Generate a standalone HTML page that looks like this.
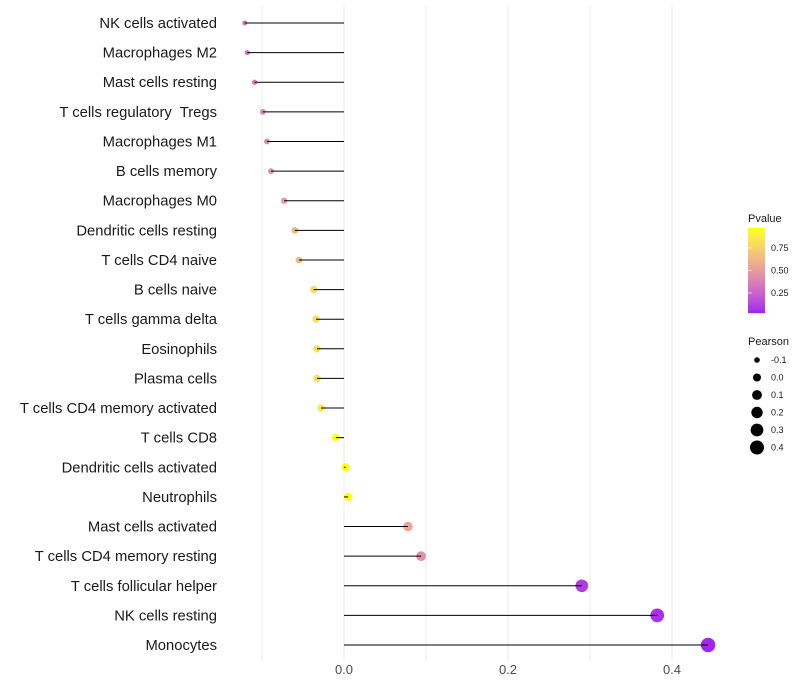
<!DOCTYPE html>
<html><head><meta charset="utf-8"><style>
body{margin:0;background:#fff;}
svg{display:block;font-family:"Liberation Sans",sans-serif;}
text{white-space:pre;}
</style></head><body>
<svg id="chart" width="800" height="700"></svg>
<script>
const categories=["NK cells activated","Macrophages M2","Mast cells resting","T cells regulatory  Tregs","Macrophages M1","B cells memory","Macrophages M0","Dendritic cells resting","T cells CD4 naive","B cells naive","T cells gamma delta","Eosinophils","Plasma cells","T cells CD4 memory activated","T cells CD8","Dendritic cells activated","Neutrophils","Mast cells activated","T cells CD4 memory resting","T cells follicular helper","NK cells resting","Monocytes"];
const pearson=[-0.121,-0.118,-0.109,-0.099,-0.094,-0.089,-0.073,-0.060,-0.055,-0.037,-0.034,-0.033,-0.033,-0.028,-0.010,0.002,0.005,0.078,0.094,0.290,0.382,0.444];
const pvalue=[0.32,0.33,0.36,0.40,0.42,0.46,0.52,0.64,0.66,0.80,0.81,0.82,0.82,0.85,0.95,0.99,0.98,0.55,0.45,0.10,0.07,0.04];
const xTicks=[0,0.2,0.4];
const xTickLabels=["0.0","0.2","0.4"];
const gridVals=[-0.1,0,0.1,0.2,0.3,0.4];
const colorTicks=[0.25,0.5,0.75];
const sizeLegend=[-0.1,0,0.1,0.2,0.3,0.4];

const NS="http://www.w3.org/2000/svg";
const svg=document.getElementById('chart');
function el(t,a,p){const e=document.createElementNS(NS,t);for(const k in a)e.setAttribute(k,a[k]);(p||svg).appendChild(e);return e;}
const x=v=>344+v*820;
const y=i=>23+i*(622/21);
const r=v=>Math.sqrt(Math.max(1,16+82*v));
function toLab(h){let c=[1,3,5].map(i=>parseInt(h.substr(i,2),16)/255).map(v=>v<=0.04045?v/12.92:Math.pow((v+0.055)/1.055,2.4));
 let X=(0.4124*c[0]+0.3576*c[1]+0.1805*c[2])/0.95047,Y=0.2126*c[0]+0.7152*c[1]+0.0722*c[2],Z=(0.0193*c[0]+0.1192*c[1]+0.9505*c[2])/1.08883;
 const f=t=>t>0.008856?Math.cbrt(t):7.787*t+16/116;return[116*f(Y)-16,500*(f(X)-f(Y)),200*(f(Y)-f(Z))];}
function fromLab(L,a,b){let fy=(L+16)/116,fx=fy+a/500,fz=fy-b/200;const g=t=>t*t*t>0.008856?t*t*t:(t-16/116)/7.787;
 let X=g(fx)*0.95047,Y=g(fy),Z=g(fz)*1.08883;let rgb=[3.2406*X-1.5372*Y-0.4986*Z,-0.9689*X+1.8758*Y+0.0415*Z,0.0557*X-0.2040*Y+1.0570*Z];
 return 'rgb('+rgb.map(v=>{v=v<=0.0031308?12.92*v:1.055*Math.pow(v,1/2.4)-0.055;return Math.round(Math.min(1,Math.max(0,v))*255);}).join(',')+')';}
const lo=toLab('#a020f0'),hi=toLab('#ffff00');const pmin=0.028,pmax=0.97;
function col(p){let t=Math.min(1,Math.max(0,(p-pmin)/(pmax-pmin)));return fromLab(lo[0]+(hi[0]-lo[0])*t,lo[1]+(hi[1]-lo[1])*t,lo[2]+(hi[2]-lo[2])*t);}

gridVals.forEach(v=>{const g=el('line',{x1:x(v),x2:x(v),y1:5,y2:662,stroke:'#ebebeb','stroke-width':1});

});
xTicks.forEach((v,i)=>{const t=el('text',{x:x(v),y:674,'text-anchor':'middle','font-size':13,fill:'#4d4d4d'});t.textContent=xTickLabels[i];

});
categories.forEach((c,i)=>{
 const t=el('text',{x:217,y:y(i)+5,'text-anchor':'end','font-size':14.8,fill:'#1a1a1a'});t.textContent=c;
 
 
 const p=el('circle',{cx:x(pearson[i]),cy:y(i),r:r(pearson[i]),fill:col(pvalue[i])});
 
 
 const s=el('line',{x1:x(0),x2:x(pearson[i]),y1:y(i),y2:y(i),stroke:'#000','stroke-width':1});
 
 
});
const lt=el('text',{x:748,y:222,'font-size':11,fill:'#1a1a1a'});lt.textContent='Pvalue';


for(let k=0;k<85;k++){const p=pmax-(k/85)*(pmax-pmin);const b=el('rect',{x:748,y:228+k,width:17,height:1.2,fill:col(p)});

}
const cy=p=>228+(pmax-p)/(pmax-pmin)*85;
colorTicks.forEach(p=>{const t=el('text',{x:771,y:cy(p)+3,'font-size':9,fill:'#1a1a1a'});t.textContent=p.toFixed(2);


const m=el('line',{x1:748,x2:752,y1:cy(p),y2:cy(p),stroke:'#fff','stroke-width':0.6});

});
const st=el('text',{x:748,y:345,'font-size':11,fill:'#1a1a1a'});st.textContent='Pearson';


sizeLegend.forEach((v,i)=>{const yy=360+i*17.5;
const c=el('circle',{cx:757,cy:yy,r:r(v),fill:'#000'});


const t=el('text',{x:771,y:yy+3,'font-size':9,fill:'#1a1a1a'});t.textContent=v.toFixed(1);

});
</script>
</body></html>
